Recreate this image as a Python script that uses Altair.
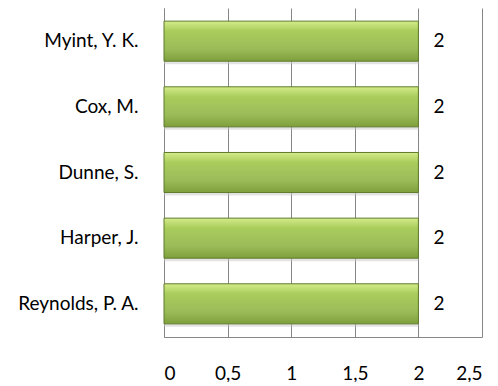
import altair as alt
import pandas as pd

authors = ["Myint, Y. K.", "Cox, M.", "Dunne, S.", "Harper, J.", "Reynolds, P. A."]
counts = [2, 2, 2, 2, 2]
x_ticks = [0, 0.5, 1, 1.5, 2, 2.5]

df = pd.DataFrame({"author": authors, "count": counts})

FONT = "Lato"
FS = 19

grad = alt.Gradient(
    gradient="linear",
    x1=0, x2=0, y1=0, y2=1,
    stops=[
        alt.GradientStop(color="#d4ec8a", offset=0),
        alt.GradientStop(color="#a9cc5c", offset=0.25),
        alt.GradientStop(color="#9bbb59", offset=0.7),
        alt.GradientStop(color="#7f9f3d", offset=1),
    ],
)

y_enc = alt.Y(
    "author:N",
    sort=authors,
    title=None,
    scale=alt.Scale(paddingInner=0.39, paddingOuter=0.2),
    axis=alt.Axis(
        labelFont=FONT, labelFontSize=FS, labelColor="#000000",
        labelPadding=26, ticks=False, domain=True, domainColor="#868686",
        grid=False,
    ),
)
x_enc = alt.X(
    "count:Q",
    title=None,
    scale=alt.Scale(domain=[0, 2.5], nice=False),
    axis=alt.Axis(
        values=x_ticks, labelExpr="replace(format(datum.value, ''), '.', ',')",
        labelFont=FONT, labelFontSize=FS, labelColor="#000000",
        labelPadding=27, ticks=False, domainColor="#868686",
        grid=True, gridColor="#868686", gridWidth=1,
    ),
)

shadow = alt.Chart(df).mark_bar(
    color="#c8c8c8", opacity=0.5, yOffset=3, xOffset=0
).encode(y=y_enc, x=x_enc)

bars = alt.Chart(df).mark_bar(
    color=grad, stroke="#5f7b2b", strokeWidth=1
).encode(y=y_enc, x=x_enc)

labels = alt.Chart(df).mark_text(
    align="left", baseline="middle", dx=15, font=FONT, fontSize=FS, color="#000000"
).encode(y=y_enc, x=x_enc, text="count:Q")

chart = (
    alt.layer(shadow, bars, labels)
    .properties(width=318, height=329, autosize=alt.AutoSizeParams(type="none"),
                padding={"left": 156, "top": 0, "right": 8, "bottom": 45})
    .configure_view(stroke=None)
)

chart.save("out.html", embed_options={"renderer": "svg", "actions": False})
